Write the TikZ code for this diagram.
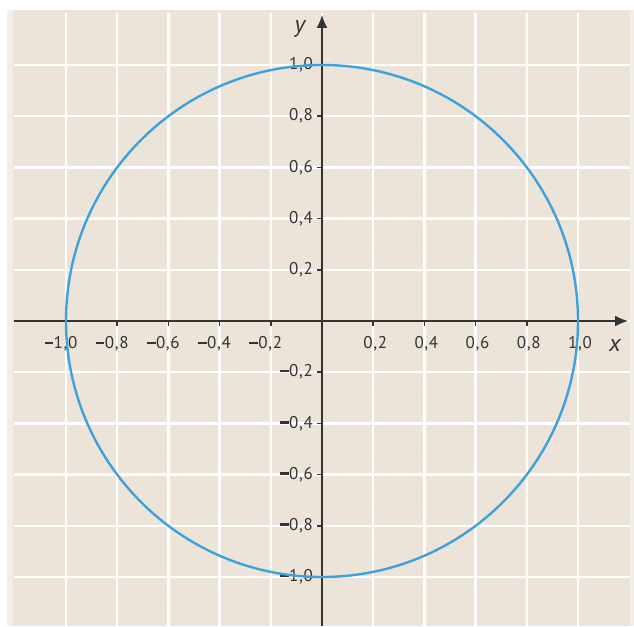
\documentclass[tikz,border=0pt]{standalone}
\usepackage{fontspec}
\setmainfont{PT Sans}[LetterSpace=4]
\usetikzlibrary{arrows.meta}
\definecolor{bg}{HTML}{EDE4D9}
\definecolor{bgl}{HTML}{F3EEE7}
\definecolor{circ}{HTML}{3DA2DB}
\definecolor{ax}{HTML}{333333}
\newcommand\mns{\rule[4.6pt]{8.5pt}{2.6pt}\kern0.5pt}
\begin{document}
\begin{tikzpicture}[x=1pt,y=-1pt,
  gridline/.style={white,line width=2.4pt},
  axisline/.style={ax,line width=1.8pt,-{Latex[length=13pt,width=11pt]}},
  tickmark/.style={ax,line width=1.6pt},
  lab/.style={font=\fontsize{17}{17}\selectfont, text=ax, inner sep=0pt},
  axlab/.style={font=\fontsize{24}{24}\selectfont\itshape, text=ax, inner sep=0pt}]
\useasboundingbox (0,0) rectangle (634,626);
\fill[bgl] (7,10) rectangle (634,626);
\fill[bg] (13,10) rectangle (630,626);
\foreach \k in {-5,...,5} {
  \draw[gridline] (322+51.2*\k,13) -- (322+51.2*\k,626);
  \draw[gridline] (14,321-51.2*\k) -- (630,321-51.2*\k);
}
\coordinate (O) at (322,321);
\coordinate (xs) at (14,321);
\coordinate (xe) at (628,321);
\coordinate (ys) at (322,626);
\coordinate (ye) at (322,15);
\draw[axisline] (xs) -- (xe);
\draw[axisline] (ys) -- (ye);
\foreach \k in {-5,...,-1,1,2,...,5} {
  \draw[tickmark] (322+51.2*\k,321) -- (322+51.2*\k,326);
  \draw[tickmark] (322,321-51.2*\k) -- (317,321-51.2*\k);
}
\foreach \k/\t in {1/{0,2},2/{0,4},3/{0,6},4/{0,8},5/{1,0}} {
  \node[lab] (xp\k) at (324+51.2*\k,344) {\t};
  \node[lab,anchor=east] (yp\k) at (313,321-51.2*\k) {\t};
  \node[lab] (xn\k) at (317-51.2*\k,344) {\mns\t};
  \node[lab,anchor=east] (yn\k) at (313,321+51.2*\k) {\mns\t};
}
\node[axlab] (xl) at (615,345) {x};
\node[axlab] (yl) at (300,29) {y};
\draw[circ,line width=2.4pt] (O) circle[radius=256];
\end{tikzpicture}
\end{document}
